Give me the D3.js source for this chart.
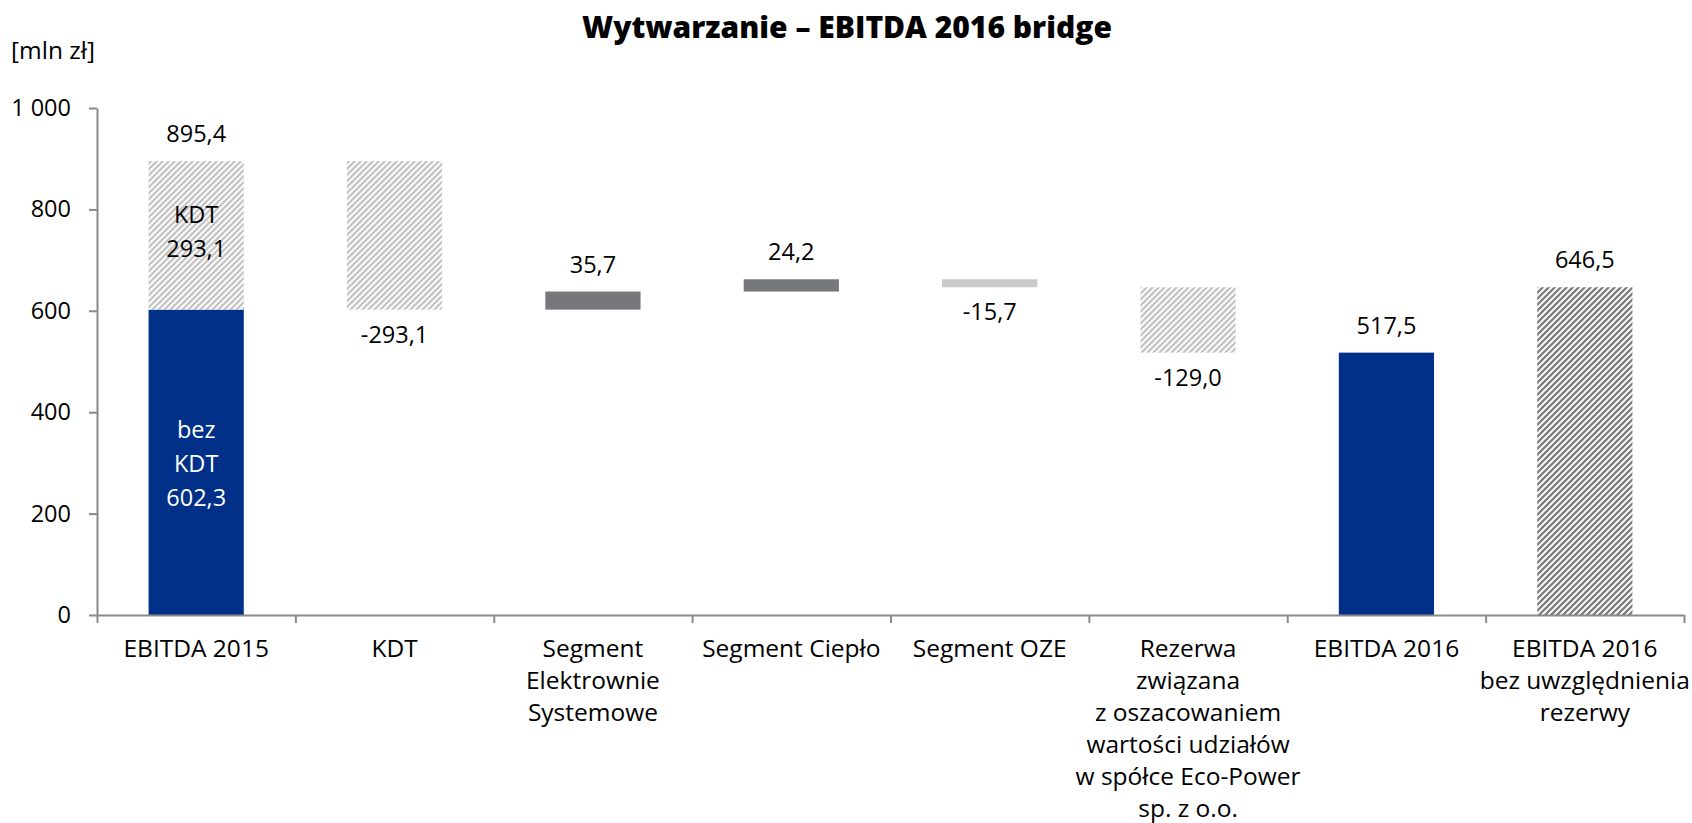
<!DOCTYPE html>
<html>
<head>
<meta charset="utf-8">
<script src="https://cdn.jsdelivr.net/npm/d3@7"></script>
<style>
  html, body { margin: 0; padding: 0; background: #fff; }
  svg { display: block; font-family: "Open Sans", sans-serif; }
</style>
</head>
<body>
<svg id="chart" width="1692" height="823"></svg>
<script>

// categories, each one a list of label lines
var categories = [
    ['EBITDA 2015'],
    ['KDT'],
    ['Segment', 'Elektrownie', 'Systemowe'],
    ['Segment Ciepło'],
    ['Segment OZE'],
    ['Rezerwa', 'związana', 'z oszacowaniem', 'wartości udziałów', 'w spółce Eco-Power', 'sp. z o.o.'],
    ['EBITDA 2016'],
    ['EBITDA 2016', 'bez uwzględnienia', 'rezerwy']
];

// EBITDA 2015 split into the part without KDT and KDT
var start_parts = [602.3, 293.1];

// changes for categories 1..5
var changes = [-293.1, 35.7, 24.2, -15.7, -129.0];
// one-off items (KDT, provision) vs. segment results
var one_off = [true, false, false, false, true];

// closing totals
var totals = [517.5, 646.5];

var y_ticks = [0, 200, 400, 600, 800, 1000];


var width = 1692,
    height = 823,
    margin = { top: 108, right: 8, bottom: 208, left: 97 };

var locale = d3.formatLocale({
    decimal: ',',
    thousands: ' ',
    grouping: [3],
    currency: ['', ' zł'],
    minus: '-'
});
var fmt_value = locale.format('.1f'),
    fmt_tick = locale.format(',d');

var svg = d3.select('#chart');

var x = d3.scaleBand()
    .domain(d3.range(categories.length))
    .range([margin.left, width - margin.right])
    .paddingInner(0.52)
    .paddingOuter(0.26);

var y = d3.scaleLinear()
    .domain([0, 1000])
    .range([height - margin.bottom, margin.top]);

var colors = {
    blue: '#003087',
    dark: '#76787b',
    light: '#c9c9c9',
    hatch_light: '#c6c6c6',
    hatch_dark: '#7e7e7e',
    axis: '#8a8a8a'
};


// hatch patterns
var defs = svg.append('defs');

function hatch (id, color) {
    var p = defs.append('pattern')
        .attr('id', id)
        .attr('patternUnits', 'userSpaceOnUse')
        .attr('width', 6)
        .attr('height', 6);
    p.append('rect')
        .attr('width', 6)
        .attr('height', 6)
        .attr('fill', '#fff');
    p.append('path')
        .attr('d', 'M-1,1 l2,-2 M0,6 l6,-6 M5,7 l2,-2')
        .attr('stroke', color)
        .attr('stroke-width', 2.3);
}
hatch('hatch-light', colors.hatch_light);
hatch('hatch-dark', colors.hatch_dark);


// build the bars of the bridge
var bars = [];

var running = start_parts[0];
bars.push({
    i: 0, y0: 0, y1: start_parts[0], fill: colors.blue,
    inside: ['bez', 'KDT', fmt_value(start_parts[0])], inside_color: '#fff'
});
bars.push({
    i: 0, y0: running, y1: running + start_parts[1], fill: 'url(#hatch-light)',
    inside: ['KDT', fmt_value(start_parts[1])], inside_color: '#000',
    label: fmt_value(running + start_parts[1]), above: true
});
running += start_parts[1];

changes.forEach(function (c, k) {
    var fill;
    if (one_off[k]) fill = 'url(#hatch-light)';
    else fill = c >= 0 ? colors.dark : colors.light;
    bars.push({
        i: k + 1, y0: running, y1: running + c, fill: fill,
        label: fmt_value(c), above: c >= 0
    });
    running += c;
});

bars.push({
    i: 6, y0: 0, y1: totals[0], fill: colors.blue,
    label: fmt_value(totals[0]), above: true
});
bars.push({
    i: 7, y0: 0, y1: totals[1], fill: 'url(#hatch-dark)',
    label: fmt_value(totals[1]), above: true
});


// bars
svg.append('g')
    .selectAll('rect')
    .data(bars)
    .enter()
    .append('rect')
    .attr('x', function (d) { return x(d.i); })
    .attr('width', x.bandwidth())
    .attr('y', function (d) { return y(Math.max(d.y0, d.y1)); })
    .attr('height', function (d) { return Math.abs(y(d.y0) - y(d.y1)); })
    .attr('fill', function (d) { return d.fill; });


// value labels above / below the bars
var label_g = svg.append('g')
    .attr('font-size', 23.5)
    .attr('text-anchor', 'middle')
    .attr('fill', '#000');

label_g.selectAll('text.value')
    .data(bars.filter(function (d) { return d.label; }))
    .enter()
    .append('text')
    .attr('class', 'value')
    .attr('x', function (d) { return x(d.i) + x.bandwidth() / 2; })
    .attr('y', function (d) {
        var top = y(Math.max(d.y0, d.y1)),
            bottom = y(Math.min(d.y0, d.y1));
        return d.above ? top - 19 : bottom + 33;
    })
    .text(function (d) { return d.label; });

// labels inside the EBITDA 2015 bar
bars.filter(function (d) { return d.inside; }).forEach(function (d) {
    var mid = (y(d.y0) + y(d.y1)) / 2 - (d.inside.length === 2 ? 4 : -1),
        line_h = 34,
        first = mid - (d.inside.length - 1) * line_h / 2;
    label_g.append('text')
        .attr('fill', d.inside_color)
        .selectAll('tspan')
        .data(d.inside)
        .enter()
        .append('tspan')
        .attr('x', x(d.i) + x.bandwidth() / 2)
        .attr('y', function (t, k) { return first + k * line_h; })
        .attr('dy', '0.35em')
        .text(function (t) { return t; });
});


// y axis
var y_axis = svg.append('g')
    .attr('transform', 'translate(' + margin.left + ',0)')
    .call(d3.axisLeft(y)
        .tickValues(y_ticks)
        .tickFormat(fmt_tick)
        .tickSize(8)
        .tickSizeOuter(0)
        .tickPadding(18));

y_axis.selectAll('text')
    .attr('font-size', 23.5)
    .attr('font-family', '"Open Sans", sans-serif')
    .attr('fill', '#000');


// x axis, ticks at the category boundaries
var x_edge = d3.scaleLinear()
    .domain([0, categories.length])
    .range([margin.left, width - margin.right]);

var x_axis = svg.append('g')
    .attr('transform', 'translate(0,' + y(0) + ')')
    .call(d3.axisBottom(x_edge)
        .tickValues(d3.range(categories.length + 1))
        .tickFormat('')
        .tickSize(8)
        .tickSizeOuter(0));

[y_axis, x_axis].forEach(function (a) {
    a.selectAll('path, line')
        .attr('stroke', colors.axis)
        .attr('stroke-width', 2);
});

// category labels
svg.append('g')
    .attr('font-size', 24.5)
    .attr('text-anchor', 'middle')
    .attr('fill', '#000')
    .selectAll('text')
    .data(categories)
    .enter()
    .append('text')
    .each(function (lines, i) {
        d3.select(this)
            .selectAll('tspan')
            .data(lines)
            .enter()
            .append('tspan')
            .attr('x', x(i) + x.bandwidth() / 2)
            .attr('y', function (t, k) { return y(0) + 42 + k * 32; })
            .text(function (t) { return t; });
    });


// title and unit
svg.append('text')
    .attr('x', 847)
    .attr('y', 38)
    .attr('text-anchor', 'middle')
    .attr('font-size', 30)
    .attr('font-weight', 800)
    .text('Wytwarzanie – EBITDA 2016 bridge');

svg.append('text')
    .attr('x', 11)
    .attr('y', 59)
    .attr('font-size', 24.5)
    .text('[mln zł]');

</script>
</body>
</html>
